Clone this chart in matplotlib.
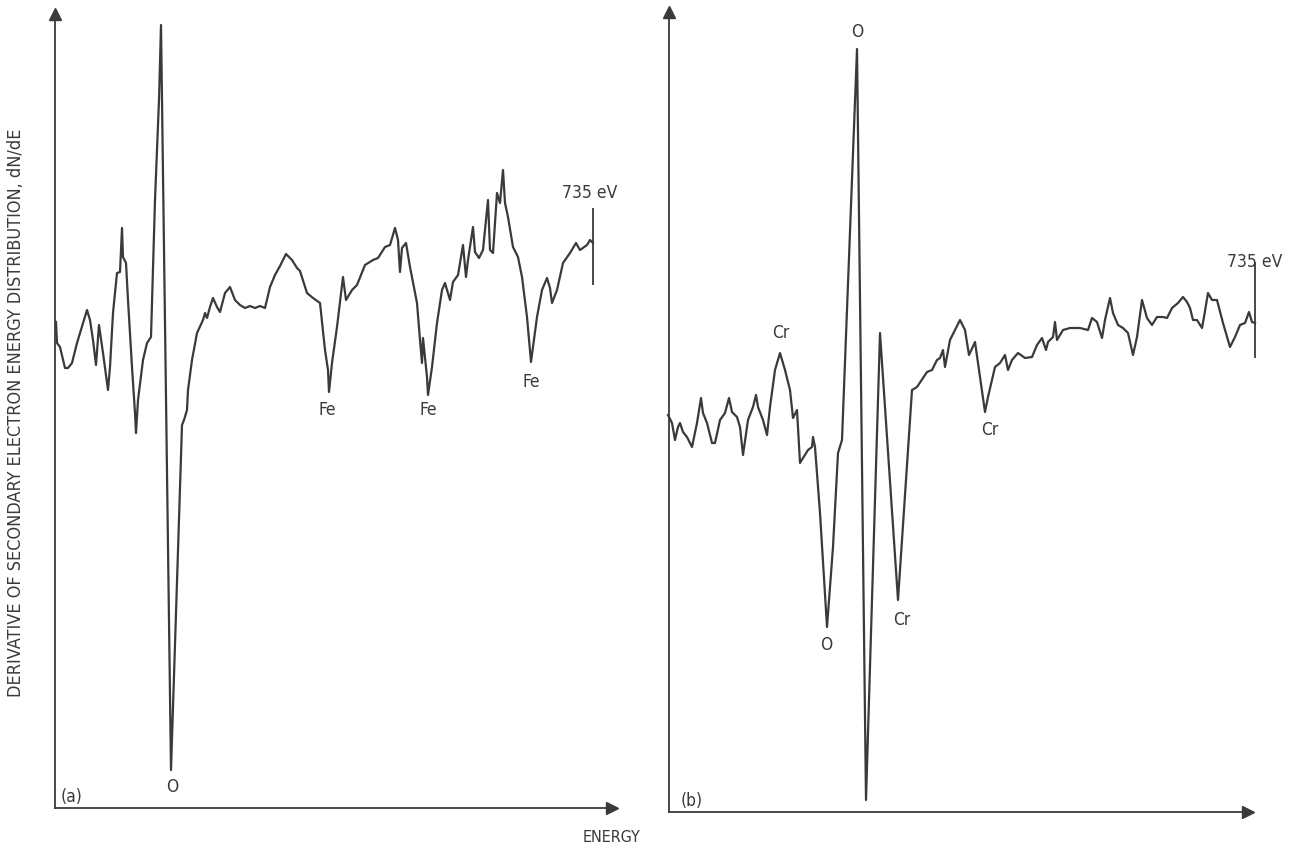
import matplotlib
matplotlib.use("Agg")
import matplotlib.pyplot as plt
import numpy as np

plt.rcParams['font.family'] = ['DejaVu Sans']

# ---------------- data: panel (a) ----------------
energy_a = [56, 57, 60, 65, 68, 72, 77, 80, 87, 90, 93, 96, 99, 103, 108, 110, 113, 117, 120,
            122, 123, 126, 128, 132, 135, 136, 138, 143, 147, 151, 155, 159, 161, 171, 182, 184,
            187, 188, 192, 197, 203, 205, 207, 210, 213, 217, 220, 225, 230, 235, 240, 245, 250,
            255, 260, 265, 270, 275, 280, 286, 292, 297, 300, 307, 313, 320, 325, 328, 329, 332,
            337, 343, 346, 352, 357, 365, 373, 378, 385, 390, 395, 398, 400, 402, 406, 410, 417,
            420, 422, 423, 427, 428, 432, 437, 442, 445, 450, 453, 458, 463, 466, 468, 473, 475,
            479, 483, 488, 490, 493, 497, 500, 503, 505, 508, 513, 518, 522, 527, 531, 537, 542,
            547, 550, 552, 557, 563, 570, 576, 580, 587, 590, 593]
dnde_a = [486, 465, 461, 440, 440, 445, 465, 475, 498, 488, 468, 443, 483, 455, 418, 441, 495, 535, 536,
          580, 551, 545, 508, 441, 395, 375, 408, 448, 465, 471, 608, 708, 783, 38, 383, 388,
          398, 418, 448, 475, 488, 495, 490, 501, 510, 501, 496, 515, 521, 508, 503, 500, 502,
          500, 502, 500, 521, 533, 542, 554, 548, 540, 537, 515, 510, 505, 458, 438, 416, 445,
          481, 531, 508, 518, 523, 543, 548, 550, 561, 563, 580, 568, 536, 560, 565, 541, 505,
          468, 445, 470, 431, 413, 441, 485, 518, 525, 508, 526, 533, 563, 531, 548, 581, 556,
          550, 558, 608, 558, 555, 615, 605, 638, 605, 591, 561, 551, 531, 491, 446, 491, 518,
          530, 520, 505, 518, 545, 555, 565, 558, 563, 568, 565]

# ---------------- data: panel (b) ----------------
energy_b = [668, 672, 675, 678, 680, 683, 687, 692, 697, 701, 703, 707, 712, 715, 720, 725, 729, 732,
            737, 740, 743, 748, 753, 756, 758, 763, 767, 770, 775, 780, 785, 790, 793, 797, 800, 803,
            808, 812, 813, 815, 820, 827, 833, 838, 842, 857, 866, 880, 898, 912, 917, 923, 927, 932,
            937, 940, 943, 945, 950, 955, 960, 965, 969, 975, 978, 985, 988, 995, 1000, 1005, 1008,
            1012, 1018, 1025, 1032, 1037, 1042, 1046, 1048, 1053, 1055, 1057, 1063, 1070, 1080, 1088,
            1092, 1097, 1102, 1105, 1110, 1113, 1118, 1123, 1128, 1133, 1137, 1142, 1147, 1152, 1157,
            1163, 1167, 1172, 1178, 1183, 1187, 1190, 1193, 1197, 1202, 1204, 1208, 1212, 1217, 1223,
            1230, 1235, 1240, 1245, 1249, 1252, 1255]
dnde_b = [397, 389, 372, 385, 389, 380, 375, 365, 389, 414, 399, 389, 369, 369, 392, 399, 414, 400,
          395, 385, 357, 392, 405, 417, 405, 392, 377, 405, 442, 459, 442, 422, 394, 402, 349, 354,
          362, 365, 375, 365, 299, 185, 265, 359, 372, 763, 12, 479, 212, 422, 425, 434, 440, 442,
          452, 454, 462, 445, 472, 482, 492, 482, 457, 470, 449, 400, 415, 445, 449, 457, 442,
          452, 459, 454, 455, 467, 474, 462, 470, 475, 490, 472, 482, 484, 484, 482,
          494, 490, 474, 492, 514, 499, 487, 484, 479, 457, 475, 512, 494, 487, 495,
          495, 494, 504, 509, 515, 510, 504, 492, 492, 484, 495, 519, 512, 512, 489,
          465, 475, 487, 489, 500, 490, 489]

# ---------------- peak labels ----------------
labels_a = ["O", "Fe", "Fe", "Fe"]
label_pos_a = [(172, 21), (327, 398), (428, 398), (531, 426)]
labels_b = ["O", "Cr", "O", "Cr", "Cr"]
label_pos_b = [(857, 780), (781, 479), (826, 167), (902, 192), (990, 382)]
end_label = "735 eV"
ylabel = "DERIVATIVE OF SECONDARY ELECTRON ENERGY DISTRIBUTION, dN/dE"
xlabel = "ENERGY"

W, H = 1295, 849
INK = "#3a3a3a"
fig = plt.figure(figsize=(W / 100, H / 100), dpi=100)
fig.patch.set_facecolor("white")


def make_axes(x0, x1, ybot, ytop):
    ax = fig.add_axes([x0 / W, 1 - ybot / H, (x1 - x0) / W, (ybot - ytop) / H])
    ax.set_xlim(x0, x1)
    ax.set_ylim(0, ybot - ytop)
    for s in ("top", "right"):
        ax.spines[s].set_visible(False)
    for s in ("left", "bottom"):
        ax.spines[s].set_color(INK)
        ax.spines[s].set_linewidth(1.3)
    ax.set_xticks([])
    ax.set_yticks([])
    ax.patch.set_alpha(0)
    ax.plot(1, 0, ">", color=INK, markersize=9, transform=ax.transAxes, clip_on=False)
    ax.plot(0, 1, "^", color=INK, markersize=9, transform=ax.transAxes, clip_on=False)
    return ax


ax_a = make_axes(55, 612, 808, 14)
ax_b = make_axes(669, 1248, 812, 12)

tfont = dict(fontsize=12.5, color=INK, fontstretch="condensed")

ax_a.plot(energy_a, dnde_a, color=INK, lw=1.6, solid_joinstyle="round", clip_on=False)
ax_a.vlines(energy_a[-1], 523, 600, color=INK, lw=1.3)
ax_a.text(energy_a[-1] - 3, 610, end_label, ha="center", va="baseline", **tfont)
for t, (x, y) in zip(labels_a, label_pos_a):
    ax_a.text(x, y, t, ha="center", va="center", **tfont)
ax_a.text(72, 11, "(a)", ha="center", va="center", **tfont)

ax_b.plot(energy_b, dnde_b, color=INK, lw=1.6, solid_joinstyle="round", clip_on=False)
ax_b.vlines(energy_b[-1], 454, 550, color=INK, lw=1.3, clip_on=False)
ax_b.text(energy_b[-1], 545, end_label, ha="center", va="baseline", **tfont)
for t, (x, y) in zip(labels_b, label_pos_b):
    ax_b.text(x, y, t, ha="center", va="center", **tfont)
ax_b.text(692, 11, "(b)", ha="center", va="center", **tfont)

fig.text(612 / W, 1 - 838 / H, xlabel, ha="center", va="center", fontsize=11.5,
         color=INK, fontstretch="condensed")
fig.text(16 / W, 1 - 413 / H, ylabel, ha="center", va="center", rotation=90,
         fontsize=13, color=INK, fontstretch="condensed")

fig.savefig("out.png", dpi=100, facecolor="white")
